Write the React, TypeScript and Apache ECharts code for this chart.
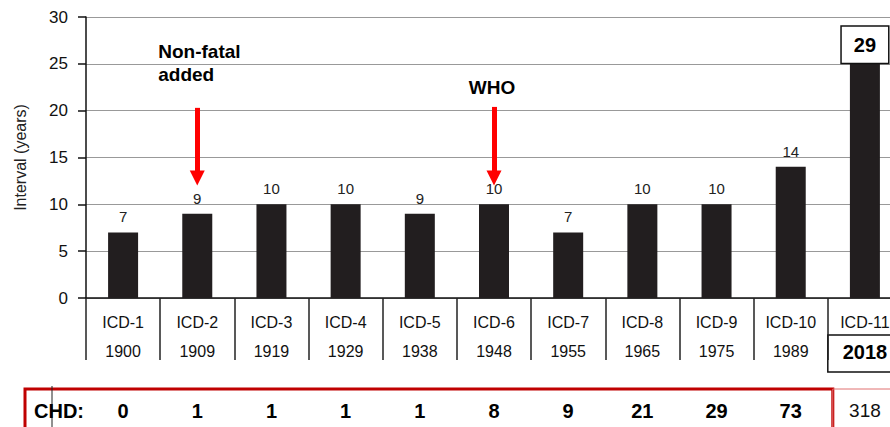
import React, { useEffect, useRef } from "react";
import * as echarts from "echarts";

const categories = ["ICD-1", "ICD-2", "ICD-3", "ICD-4", "ICD-5", "ICD-6", "ICD-7", "ICD-8", "ICD-9", "ICD-10", "ICD-11"];
const years = ["1900", "1909", "1919", "1929", "1938", "1948", "1955", "1965", "1975", "1989", "2018"];
const intervals = [7, 9, 10, 10, 9, 10, 7, 10, 10, 14, 29];
const chd = [0, 1, 1, 1, 1, 8, 9, 21, 29, 73, 318];
const yMax = 30;
const yStep = 5;
const barCap = 25; // bars taller than this are drawn truncated, value shown in a box
const annotations = [
  { category: "ICD-2", text: "Non-fatal\nadded", from: 20.3, to: 12.8 },
  { category: "ICD-6", text: "WHO", from: 20.4, to: 12.8 },
];

const FONT = "'Liberation Sans', Arial, sans-serif";

export default function App() {
  const ref = useRef<HTMLDivElement>(null);
  useEffect(() => {
    if (!ref.current) return;
    const chart = echarts.init(ref.current, undefined, { renderer: "svg" });
    const last = categories.length - 1;
    chart.setOption({
      animation: false,
      textStyle: { fontFamily: FONT },
      grid: { left: 86, top: 17, width: 816, height: 281, outerBoundsMode: "none", containLabel: false },
      xAxis: [
        {
          type: "category",
          data: categories,
          axisLine: { show: true, lineStyle: { color: "#111", width: 1.5 } },
          axisTick: { show: true, interval: 0, length: 62, lineStyle: { color: "#222", width: 1.5 } },
          axisLabel: {
            interval: 0,
            margin: 10,
            formatter: (v: string, i: number) =>
              i === last ? `{n|${v}}\n{yb|${years[i]}}` : `{n|${v}}\n{y|${years[i]}}`,
            rich: {
              n: { fontSize: 16, lineHeight: 29, color: "#111", fontFamily: FONT },
              y: { fontSize: 16, lineHeight: 29, color: "#111", fontFamily: FONT },
              yb: { fontSize: 20, lineHeight: 29, fontWeight: "bold", color: "#000", fontFamily: FONT },
            },
          },
        },
        {
          type: "category",
          data: chd.map(String),
          position: "bottom",
          offset: 100,
          axisLine: { show: false },
          axisTick: { show: false },
          axisLabel: {
            interval: 0,
            margin: 3,
            formatter: (v: string, i: number) => (i === last ? `{r|${v}}` : `{b|${v}}`),
            rich: {
              b: { fontSize: 20, fontWeight: "bold", color: "#000", fontFamily: FONT },
              r: { fontSize: 19, color: "#111", fontFamily: FONT },
            },
          },
        },
      ],
      yAxis: {
        type: "value",
        min: 0,
        max: yMax,
        interval: yStep,
        name: "Interval (years)",
        nameLocation: "middle",
        nameGap: 58,
        nameTextStyle: { fontSize: 16, color: "#222", fontFamily: FONT },
        axisLine: { show: true, lineStyle: { color: "#111", width: 1.5 } },
        axisTick: { show: true, length: 8, lineStyle: { color: "#111", width: 1.5 } },
        axisLabel: { fontSize: 17, color: "#111", margin: 18 },
        splitLine: { lineStyle: { color: "#999", width: 1.2 } },
      },
      series: [
        {
          type: "bar",
          barWidth: 30,
          itemStyle: { color: "#221e1f" },
          label: { show: true, position: "top", distance: 8, fontSize: 15, color: "#222" },
          data: intervals.map((v) =>
            v > barCap
              ? {
                  value: barCap,
                  label: {
                    formatter: () => String(v),
                    distance: 1,
                    fontSize: 20,
                    fontWeight: "bold",
                    color: "#000",
                    backgroundColor: "#fff",
                    borderColor: "#111",
                    borderWidth: 1.5,
                    padding: [8, 12, 8, 12],
                  },
                }
              : v
          ),
          markLine: {
            silent: true,
            symbol: ["none", "triangle"],
            symbolSize: [15, 15],
            label: { show: false },
            lineStyle: { color: "#ff0000", width: 5, type: "solid" },
            data: annotations.map((a) => [
              { coord: [a.category, a.from] },
              { coord: [a.category, a.to] },
            ]),
          },
        },
      ],
    });

    const px = (cat: string, val: number) => chart.convertToPixel({ xAxisIndex: 0, yAxisIndex: 0 }, [cat, val]) as number[];
    const p2 = px(annotations[0].category, 0);
    const p6 = px(annotations[1].category, 0);
    const b10 = px(categories[last], 0);
    const half = 74.2 / 2;
    chart.setOption({
      graphic: [
        {
          type: "text",
          x: p2[0] - 39,
          y: 40,
          style: { text: annotations[0].text, font: `bold 19px ${FONT}`, fill: "#000", lineHeight: 23 },
        },
        {
          type: "text",
          x: p6[0] - 2,
          y: 78,
          style: { text: annotations[1].text, font: `bold 19px ${FONT}`, fill: "#000", align: "center" },
        },
        {
          type: "rect",
          shape: { x: b10[0] - half, y: 335, width: 80, height: 37 },
          style: { fill: "none", stroke: "#111", lineWidth: 1.5 },
        },
        {
          type: "rect",
          shape: { x: 25, y: 389, width: b10[0] - half - 25 + 5, height: 45 },
          style: { fill: "none", stroke: "#c00000", lineWidth: 3 },
        },
        {
          type: "rect",
          shape: { x: b10[0] - half + 5, y: 389, width: 70, height: 45 },
          style: { fill: "none", stroke: "#e07070", lineWidth: 1 },
        },
        {
          type: "line",
          shape: { x1: 52, y1: 386, x2: 52, y2: 427 },
          style: { stroke: "#222", lineWidth: 1 },
        },
        {
          type: "text",
          x: 34,
          y: 411,
          style: { text: "CHD:", font: `bold 20px ${FONT}`, fill: "#000", verticalAlign: "middle" },
        },
      ],
    });
    return () => chart.dispose();
  }, []);
  return <div ref={ref} style={{ position: "fixed", left: 0, top: 0, width: 890, height: 427, background: "#fff" }} />;
}
